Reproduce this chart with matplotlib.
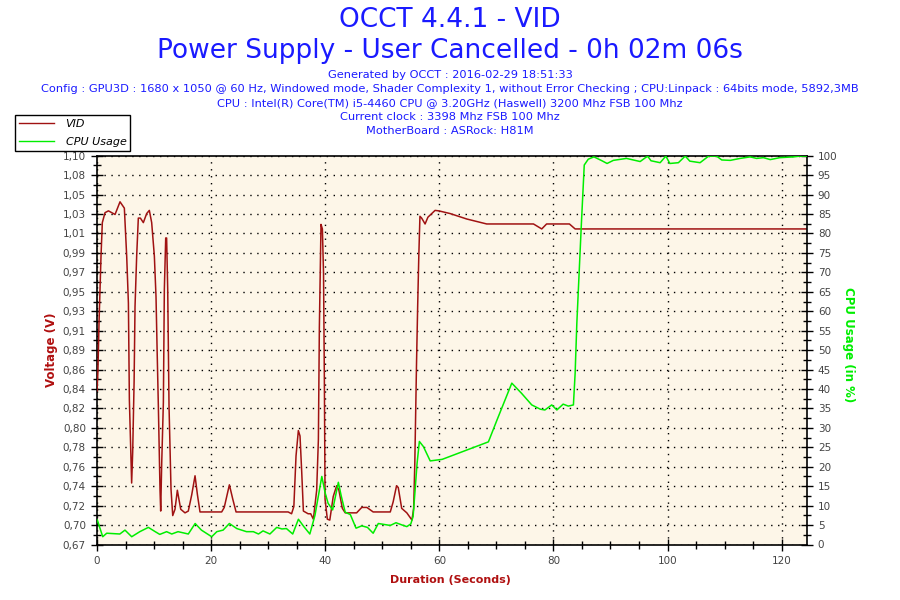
import numpy as np
import matplotlib.pyplot as plt
from matplotlib.ticker import FixedLocator, MultipleLocator

# VID samples (seconds, volts)
vid_t = [0.0, 0.15, 0.35, 0.7, 0.93, 1.4, 2.0, 3.16, 4.03, 4.79, 5.2, 5.5, 5.67,
         5.9, 6.07, 6.25, 6.5, 6.66, 6.95, 7.24, 7.6, 8.12, 8.7, 9.17, 9.58,
         10.05, 10.34, 10.52, 10.75, 11.04, 11.16, 11.34, 11.63, 11.8, 12.04,
         12.2, 12.39, 12.62, 12.97, 13.27, 13.67, 14.08, 14.67, 15.42, 16.0,
         16.6, 17.18, 17.6, 18.05, 21.85, 22.3, 23.2, 23.8, 24.37, 33.5, 34.1,
         34.5, 34.88, 35.29, 35.58, 35.88, 36.17, 37.0, 37.45, 37.92, 38.5,
         38.8, 38.97, 39.26, 39.5, 39.7, 39.85, 39.97, 40.37, 40.8, 41.4, 42.0,
         42.4, 43.0, 43.5, 45.5, 46.4, 47.3, 48.4, 51.4, 51.9, 52.5, 52.8,
         53.4, 54.3, 54.75, 55.2, 55.5, 55.7, 56.0, 56.2, 56.4, 56.6, 56.9,
         57.5, 58.0, 59.25, 59.9, 61.9, 64.8, 68.3, 76.5, 77.95, 78.8, 82.8,
         83.8, 124.4]
vid_v = [0.84, 0.86, 0.915, 0.989, 1.026, 1.037, 1.039, 1.035, 1.049, 1.042,
         0.989, 0.937, 0.83, 0.777, 0.738, 0.772, 0.85, 0.933, 0.989, 1.031,
         1.031, 1.026, 1.036, 1.0395, 1.026, 0.989, 0.944, 0.889, 0.823, 0.731,
         0.707, 0.76, 0.827, 0.952, 1.009, 1.009, 0.952, 0.823, 0.731, 0.702,
         0.709, 0.730, 0.709, 0.705, 0.707, 0.725, 0.746, 0.725, 0.706, 0.706,
         0.711, 0.736, 0.72, 0.706, 0.706, 0.704, 0.712, 0.768, 0.796, 0.790,
         0.75, 0.707, 0.704, 0.704, 0.698, 0.73, 0.786, 0.91, 1.024, 1.019,
         0.97, 0.85, 0.72, 0.698, 0.697, 0.723, 0.735, 0.73, 0.71, 0.705,
         0.705, 0.711, 0.711, 0.706, 0.706, 0.717, 0.735, 0.733, 0.71, 0.705,
         0.701, 0.697, 0.71, 0.76, 0.87, 0.933, 0.989, 1.033, 1.031, 1.0245,
         1.032, 1.0395, 1.039, 1.036, 1.030, 1.0245, 1.0245, 1.019, 1.0245,
         1.0245, 1.019, 1.019]

# CPU usage samples (seconds, percent)
cpu_t = [0.05, 1.0, 1.7, 4.0, 4.9, 6.08, 7.5, 9.0, 10.2, 11.0, 12.2, 13.1,
         14.2, 16.0, 17.2, 18.3, 20.1, 21.0, 22.1, 23.2, 24.5, 26.2, 27.4,
         28.3, 29.1, 30.3, 31.5, 32.4, 33.2, 34.3, 35.3, 36.2, 37.3, 38.2,
         39.4, 40.0, 40.5, 41.3, 42.3, 42.8, 43.5, 44.4, 45.4, 46.4, 47.4,
         48.4, 49.3, 51.4, 52.4, 53.5, 54.3, 55.0, 55.4, 55.7, 56.1, 56.5,
         57.2, 58.4, 60.5, 68.6, 70.1, 72.7, 74.4, 76.2, 77.7, 78.5, 79.7,
         80.6, 81.7, 82.6, 83.5, 83.8, 84.1, 84.5, 84.9, 85.1, 85.4, 86.1,
         87.1, 88.5, 89.4, 90.5, 92.8, 95.2, 96.5, 97.1, 98.7, 99.7, 100.4,
         101.9, 103.1, 103.9, 105.7, 107.2, 108.6, 109.5, 111.0, 112.7, 114.5,
         115.6, 116.8, 118.0, 119.7, 122.1, 123.2, 124.4]
cpu_p = [6.3, 2.0, 2.9, 2.7, 3.7, 2.0, 3.3, 4.4, 3.3, 2.6, 3.3, 2.7, 3.3, 2.7,
         5.4, 3.7, 2.0, 3.3, 3.7, 5.4, 4.1, 3.3, 3.3, 2.7, 3.5, 2.7, 4.4, 4.0,
         4.1, 2.7, 6.5, 4.7, 2.7, 7.5, 17.5, 13.2, 10.6, 8.9, 16.0, 12.5, 8.3,
         7.7, 4.2, 4.8, 4.4, 2.9, 5.4, 4.9, 5.6, 5.0, 4.6, 5.3, 7.2, 13.0,
         20.9, 26.5, 25.2, 21.5, 21.9, 26.4, 32.0, 41.5, 38.9, 35.9, 34.8,
         34.6, 35.9, 34.6, 36.1, 35.6, 35.9, 44.0, 56.9, 69.8, 82.6, 88.6,
         97.6, 99.1, 99.7, 98.7, 98.0, 98.8, 99.3, 98.5, 99.9, 98.7, 98.2,
         99.9, 98.0, 98.2, 99.9, 98.6, 98.2, 99.9, 99.9, 98.9, 98.8, 99.3,
         99.7, 99.3, 99.5, 99.0, 99.5, 99.7, 99.9, 99.9]

volt_labels = ['0,67', '0,70', '0,72', '0,74', '0,76', '0,78', '0,80', '0,82',
               '0,84', '0,86', '0,89', '0,91', '0,93', '0,95', '0,97', '0,99',
               '1,01', '1,03', '1,05', '1,08', '1,10']

title_lines = ['OCCT 4.4.1 - VID', 'Power Supply - User Cancelled - 0h 02m 06s']
info_lines = [
    'Generated by OCCT : 2016-02-29 18:51:33',
    'Config : GPU3D : 1680 x 1050 @ 60 Hz, Windowed mode, Shader Complexity 1, '
    'without Error Checking ; CPU:Linpack : 64bits mode, 5892,3MB',
    'CPU : Intel(R) Core(TM) i5-4460 CPU @ 3.20GHz (Haswell) 3200 Mhz FSB 100 Mhz',
    'Current clock : 3398 Mhz FSB 100 Mhz',
    'MotherBoard : ASRock: H81M',
]

BLUE = '#1a1aff'
DARKRED = '#b01010'
VIDRED = '#a01212'
GREEN = '#00ee00'
TICKGRAY = '#444444'

fig = plt.figure(figsize=(9, 6), dpi=100)
ax = fig.add_axes([0.1078, 0.0925, 0.7886, 0.648])
ax.set_facecolor('#fdf6e8')

vmin, vmax = 0.67, 1.10
xmax = 124.4

ax.plot(vid_t, vid_v, color=VIDRED, lw=1.1, zorder=3)
ax.set_xlim(0, xmax)
ax.set_ylim(vmin, vmax)

vticks = np.linspace(vmin, vmax, len(volt_labels))
ax.yaxis.set_major_locator(FixedLocator(vticks))
ax.set_yticklabels(volt_labels)
step = vticks[1] - vticks[0]
ax.yaxis.set_minor_locator(FixedLocator(vticks[:-1] + step / 2))
ax.xaxis.set_major_locator(MultipleLocator(20))
ax.xaxis.set_minor_locator(MultipleLocator(5))

ax.grid(True, which='major', color='black', linestyle=(0, (1, 4)), lw=1)
ax.tick_params(which='major', direction='inout', length=9, width=1,
               colors='black', labelcolor=TICKGRAY, labelsize=7.5)
ax.tick_params(which='minor', direction='inout', length=6, width=1)
for s in ['left', 'bottom', 'top']:
    ax.spines[s].set_linewidth(1.2)
ax.spines['right'].set_visible(False)

ax2 = ax.twinx()
ax2.plot(cpu_t, cpu_p, color=GREEN, lw=1.1, zorder=3)
ax2.set_ylim(0, 100)
ax2.yaxis.set_major_locator(MultipleLocator(5))
ax2.yaxis.set_minor_locator(MultipleLocator(2.5))
ax2.tick_params(which='major', direction='inout', length=9, width=1,
                labelcolor=TICKGRAY, labelsize=7.5)
ax2.tick_params(which='minor', direction='inout', length=6, width=1)
ax2.spines['right'].set_linewidth(1.2)
ax2.spines['top'].set_visible(False)
ax2.spines['left'].set_visible(False)
ax2.spines['bottom'].set_visible(False)

fig.text(0.5, 1 - 20 / 600, title_lines[0], ha='center', va='center',
         color=BLUE, fontsize=19)
fig.text(0.5, 1 - 51 / 600, title_lines[1], ha='center', va='center',
         color=BLUE, fontsize=19)
for i, line in enumerate(info_lines):
    fig.text(0.5, 1 - (75 + 14 * i) / 600, line, ha='center', va='center',
             color=BLUE, fontsize=8.2)

fig.text(52 / 900, 1 - 350 / 600, 'Voltage (V)', rotation=90, ha='center',
         va='center', color=DARKRED, fontsize=8.5, fontweight='bold')
fig.text(848 / 900, 1 - 345 / 600, 'CPU Usage (in %)', rotation=-90,
         ha='center', va='center', color=GREEN, fontsize=8.5,
         fontweight='bold')
fig.text(450 / 900, 1 - 580 / 600, 'Duration (Seconds)', ha='center',
         va='center', color=DARKRED, fontsize=8, fontweight='bold')

h1 = plt.Line2D([], [], color=VIDRED, lw=1)
h2 = plt.Line2D([], [], color=GREEN, lw=1)
leg = fig.legend([h1, h2], ['VID', 'CPU Usage'], loc='upper left',
                 bbox_to_anchor=(15 / 900, 1 - 115 / 600), fancybox=False,
                 framealpha=1, edgecolor='black',
                 prop={'style': 'italic', 'size': 8},
                 handlelength=3.2, borderpad=0.35, labelspacing=0.75,
                 handletextpad=1.0, borderaxespad=0)
leg.get_frame().set_linewidth(1)

fig.savefig('out.png', dpi=100)
